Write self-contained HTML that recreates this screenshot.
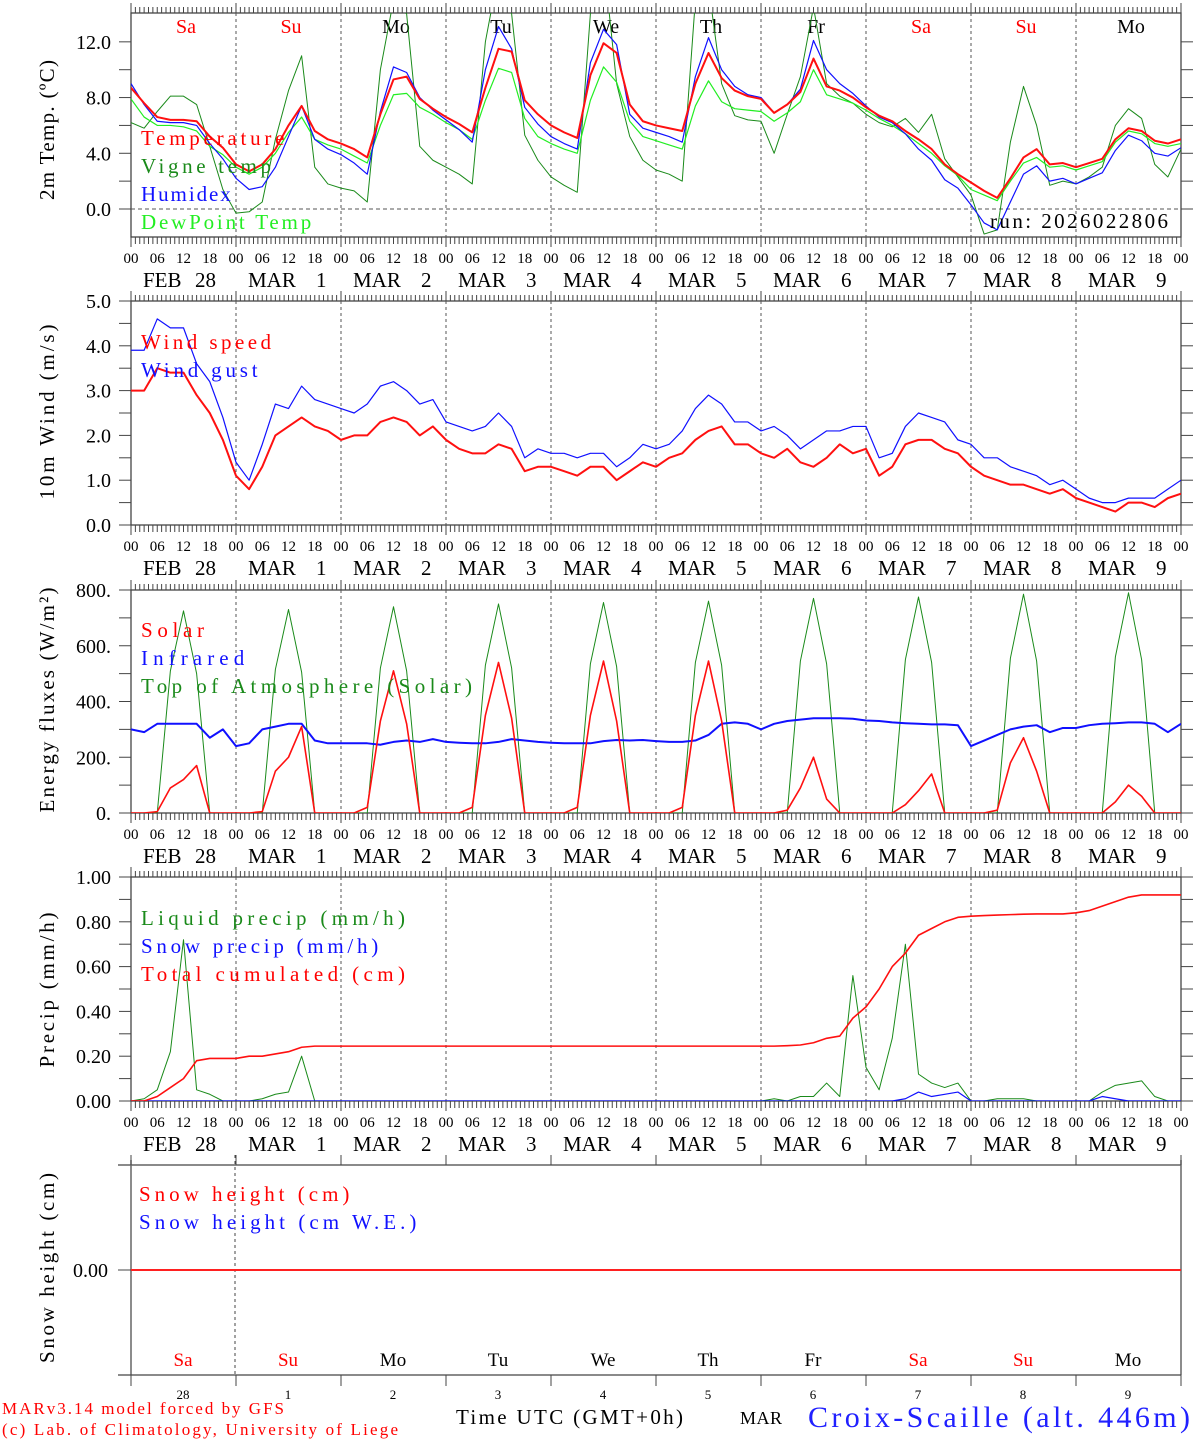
<!DOCTYPE html>
<html><head><meta charset="utf-8">
<style>
html,body{margin:0;padding:0;background:#fff;}
svg{display:block;}
text{font-family:"Liberation Serif",serif;}
</style></head>
<body>
<svg id="chart" width="1194" height="1440" viewBox="0 0 1194 1440" xmlns="http://www.w3.org/2000/svg">
<defs>
<clipPath id="cp1"><rect x="131" y="13" width="1050" height="224"/></clipPath>
<clipPath id="cp2"><rect x="131" y="301" width="1050" height="224"/></clipPath>
<clipPath id="cp3"><rect x="131" y="590" width="1050" height="223"/></clipPath>
<clipPath id="cp4"><rect x="131" y="877" width="1050" height="224"/></clipPath>
</defs>
<g id="root"></g>
</svg>
<script>
// ---- data (3-hourly, 00 Feb 28 .. 00 Mar 10) ----
const dayNames = ["Sa","Su","Mo","Tu","We","Th","Fr","Sa","Su","Mo"];
const dateLabels = ["FEB 28","MAR  1","MAR  2","MAR  3","MAR  4","MAR  5","MAR  6","MAR  7","MAR  8","MAR  9"];
const dayNums = ["28","1","2","3","4","5","6","7","8","9"];
const hourLabels = ["00","06","12","18"];
const tempTicks = [0,4,8,12];
const windTicks = [0,1,2,3,4,5];
const fluxTicks = [0,200,400,600,800];
const precipTicks = [0,0.2,0.4,0.6,0.8,1.0];

const temperature = [8.7,7.6,6.6,6.4,6.4,6.3,5.2,4.4, 3.2,2.7,3.2,4.3,6.0,7.4,5.6,5.0, 4.7,4.3,3.7,6.8,9.3,9.5,7.9,7.2, 6.6,6.1,5.5,8.7,11.5,11.3,7.8,6.8, 6.0,5.5,5.1,9.6,11.9,11.2,7.5,6.3, 6.0,5.8,5.6,9.0,11.2,9.4,8.5,8.1, 7.9,6.9,7.5,8.4,10.8,8.8,8.5,8.0, 7.3,6.7,6.3,5.6,5.0,4.3,3.2,2.5, 1.9,1.3,0.8,2.2,3.7,4.3,3.2,3.3, 3.0,3.3,3.6,5.0,5.8,5.6,4.9,4.7,5.0];
const vigneTemp = [6.2,5.8,7.0,8.1,8.1,7.5,4.5,1.4, -0.3,-0.2,0.5,5.0,8.5,11.0,3.0,1.8, 1.5,1.3,0.5,10.0,15,14,4.5,3.5, 3.0,2.5,1.8,12,17,14,5.3,3.5, 2.3,1.7,1.2,14,18,9,5.2,3.5, 2.8,2.5,2.0,15,16,9,6.7,6.4, 6.3,4.0,6.8,9.5,14.5,9.0,8.1,7.6, 6.8,6.2,5.9,6.5,5.5,6.8,3.6,2.3, 1.0,-1.8,-1.5,4.8,8.8,6.0,1.7,2.0, 1.8,2.3,3.0,6.0,7.2,6.5,3.2,2.3,4.3];
const humidex = [9.0,7.5,6.3,6.2,6.2,6.0,4.7,3.6, 2.2,1.4,1.6,3.0,5.2,7.4,5.0,4.3, 3.9,3.3,2.5,7.0,10.2,9.8,8.0,7.1, 6.4,5.7,4.8,10.0,13.1,11.5,7.3,6.1, 5.2,4.7,4.3,10.5,12.9,11.8,6.8,5.8, 5.5,5.2,4.8,9.5,12.3,10.0,8.8,8.2, 8.0,6.9,7.5,8.6,12.1,10.0,9.0,8.3, 7.4,6.6,6.2,5.4,4.3,3.5,2.1,1.5, 0.3,-1.0,-1.5,0.5,2.5,3.1,2.0,2.2, 1.8,2.2,2.6,4.2,5.3,4.9,4.0,3.8,4.4];
const dewPoint = [7.9,6.6,6.0,6.0,5.9,5.6,4.5,3.9, 3.0,2.5,3.0,4.0,5.5,6.6,5.0,4.6, 4.3,3.8,3.3,6.0,8.2,8.3,7.3,6.8, 6.2,5.7,5.0,7.8,10.1,9.8,6.5,5.2, 4.7,4.3,4.0,7.8,10.2,9.1,6.3,5.2, 4.9,4.6,4.3,7.4,9.2,7.7,7.2,7.1, 7.0,6.3,6.9,7.7,10.0,8.2,7.9,7.6, 7.1,6.5,6.0,5.4,4.7,4.0,3.1,2.4, 1.4,1.0,0.6,2.0,3.3,3.7,3.0,3.1, 2.8,3.1,3.4,4.8,5.6,5.4,4.7,4.5,4.7];

const windSpeed = [3.0,3.0,3.5,3.4,3.4,2.9,2.5,1.9, 1.1,0.8,1.3,2.0,2.2,2.4,2.2,2.1, 1.9,2.0,2.0,2.3,2.4,2.3,2.0,2.2, 1.9,1.7,1.6,1.6,1.8,1.7,1.2,1.3, 1.3,1.2,1.1,1.3,1.3,1.0,1.2,1.4, 1.3,1.5,1.6,1.9,2.1,2.2,1.8,1.8, 1.6,1.5,1.7,1.4,1.3,1.5,1.8,1.6, 1.7,1.1,1.3,1.8,1.9,1.9,1.7,1.6, 1.3,1.1,1.0,0.9,0.9,0.8,0.7,0.8, 0.6,0.5,0.4,0.3,0.5,0.5,0.4,0.6,0.7];
const windGust = [3.9,3.9,4.6,4.4,4.4,3.6,3.2,2.4, 1.4,1.0,1.8,2.7,2.6,3.1,2.8,2.7, 2.6,2.5,2.7,3.1,3.2,3.0,2.7,2.8, 2.3,2.2,2.1,2.2,2.5,2.2,1.5,1.7, 1.6,1.6,1.5,1.6,1.6,1.3,1.5,1.8, 1.7,1.8,2.1,2.6,2.9,2.7,2.3,2.3, 2.1,2.2,2.0,1.7,1.9,2.1,2.1,2.2, 2.2,1.5,1.6,2.2,2.5,2.4,2.3,1.9, 1.8,1.5,1.5,1.3,1.2,1.1,0.9,1.0, 0.8,0.6,0.5,0.5,0.6,0.6,0.6,0.8,1.0];

const solar = [0,0,5,90,120,170,0,0, 0,0,5,150,200,310,0,0, 0,0,20,330,510,320,0,0, 0,0,20,350,540,340,0,0, 0,0,20,350,545,330,0,0, 0,0,20,350,545,330,0,0, 0,0,10,90,200,50,0,0, 0,0,0,30,80,140,0,0, 0,0,10,180,270,150,0,0, 0,0,0,40,100,60,0,0,0];
const infrared = [300,290,320,320,320,320,270,300, 240,250,300,310,320,320,260,250, 250,250,250,245,255,260,255,265, 255,252,250,250,255,265,260,255, 252,250,250,250,258,262,260,262, 258,255,255,260,280,320,325,320, 300,320,330,335,340,340,340,338, 332,330,325,322,320,318,318,315, 240,260,280,300,310,315,290,305, 305,315,320,322,325,325,320,290,320];
const toaSolar = [0,0,0,510,725,500,0,0, 0,0,0,515,730,505,0,0, 0,0,0,520,740,510,0,0, 0,0,0,530,750,520,0,0, 0,0,0,535,755,525,0,0, 0,0,0,540,760,530,0,0, 0,0,0,545,770,535,0,0, 0,0,0,550,775,540,0,0, 0,0,0,555,785,545,0,0, 0,0,0,560,790,550,0,0,0];

const liquidPrecip = [0,0.01,0.05,0.22,0.72,0.05,0.03,0, 0,0,0.01,0.03,0.04,0.2,0,0, 0,0,0,0,0,0,0,0, 0,0,0,0,0,0,0,0, 0,0,0,0,0,0,0,0, 0,0,0,0,0,0,0,0, 0,0.01,0,0.02,0.02,0.08,0.02,0.56, 0.15,0.05,0.28,0.70,0.12,0.08,0.06,0.08, 0,0,0.01,0.01,0.01,0,0,0, 0,0,0.04,0.07,0.08,0.09,0.02,0,0];
const snowPrecip = [0,0,0,0,0,0,0,0, 0,0,0,0,0,0,0,0, 0,0,0,0,0,0,0,0, 0,0,0,0,0,0,0,0, 0,0,0,0,0,0,0,0, 0,0,0,0,0,0,0,0, 0,0,0,0,0,0,0,0, 0,0,0,0.01,0.04,0.02,0.03,0.04, 0,0,0,0,0,0,0,0, 0,0,0.02,0.01,0,0,0,0,0];
const totalCum = [0,0,0.02,0.06,0.10,0.18,0.19,0.19, 0.19,0.20,0.20,0.21,0.22,0.24,0.245,0.245, 0.245,0.245,0.245,0.245,0.245,0.245,0.245,0.245, 0.245,0.245,0.245,0.245,0.245,0.245,0.245,0.245, 0.245,0.245,0.245,0.245,0.245,0.245,0.245,0.245, 0.245,0.245,0.245,0.245,0.245,0.245,0.245,0.245, 0.245,0.245,0.247,0.25,0.26,0.28,0.29,0.37, 0.42,0.50,0.60,0.66,0.74,0.77,0.80,0.82, 0.825,0.828,0.83,0.832,0.834,0.835,0.835,0.835, 0.84,0.85,0.87,0.89,0.91,0.92,0.92,0.92,0.92];
const snowHeight = [0,0];
const snowHeightWE = [0,0];

// ---- helpers ----
const NS = "http://www.w3.org/2000/svg";
const root = document.getElementById("root");
const X0 = 131, X1 = 1181, DAYW = 105;
function xOf(i){ return X0 + i * DAYW / 8; }
function mk(tag, attrs, parent){
  const e = document.createElementNS(NS, tag);
  for (const k in attrs) e.setAttribute(k, attrs[k]);
  (parent || root).appendChild(e);
  return e;
}
function txt(s, attrs, parent){ const t = mk("text", attrs, parent); t.textContent = s; return t; }
function lin(x1,y1,x2,y2,stroke,w,dash){
  const a = {x1:x1,y1:y1,x2:x2,y2:y2,stroke:stroke,"stroke-width":w||1};
  if (dash) a["stroke-dasharray"] = dash;
  return mk("line", a);
}

function panel(top, bot, vmin, vmax){
  return {top:top, bot:bot, y: v => bot - (v - vmin) / (vmax - vmin) * (bot - top)};
}
const P1 = panel(13, 237, -2.0, 14.1);
P1.y = v => 209 - v * 13.93;
const P2 = panel(301, 525, 0, 5);
const P3 = panel(590, 813, 0, 800);
const P4 = panel(877, 1101, 0, 1.0);

function frame(p, name){
  const g = mk("g", {});
  
  
  mk("rect", {x:X0, y:p.top, width:X1-X0, height:p.bot-p.top, fill:"none", stroke:"#444", "stroke-width":1.3}, g);
  for (let h = 0; h <= 240; h++){
    const x = X0 + h * DAYW / 24;
    const major = h % 24 === 0;
    mk("line", {x1:x, x2:x, y1:p.top, y2:p.top - (major?10:6), stroke:"#444", "stroke-width":1}, g);
    mk("line", {x1:x, x2:x, y1:p.bot, y2:p.bot + (major?10:7), stroke:"#444", "stroke-width":1}, g);
  }
  for (let d = 1; d < 10; d++){
    const x = X0 + d*DAYW;
    mk("line", {x1:x, x2:x, y1:p.top, y2:p.bot, stroke:"#555", "stroke-width":1, "stroke-dasharray":"3,3"}, g);
  }
}
function yAxis(p, ticks, minorStep, fmt, title, cy, tlen, name){
  const g = mk("g", {});
  
  
  ticks.forEach(v => {
    const y = p.y(v);
    mk("line", {x1:X0-12, x2:X0, y1:y, y2:y, stroke:"#444"}, g);
    mk("line", {x1:X1, x2:X1+12, y1:y, y2:y, stroke:"#444"}, g);
    txt(fmt(v), {x:X0-20, y:y+7, "font-size":20, "text-anchor":"end", fill:"#000"}, g);
  });
  if (minorStep){
    for (let k = 0; k < ticks.length - 1; k++){
      const v = ticks[k] + minorStep;
      const y = p.y(v);
      mk("line", {x1:X0-12, x2:X0, y1:y, y2:y, stroke:"#444"}, g);
      mk("line", {x1:X1, x2:X1+12, y1:y, y2:y, stroke:"#444"}, g);
    }
  }
  const t = txt(title, {x:0, y:0, "font-size":21, "text-anchor":"middle", textLength:tlen, lengthAdjust:"spacing", transform:`translate(54,${cy}) rotate(-90)`, fill:"#000"}, g);
  
  
}
function timeLabels(p, name){
  const g = mk("g", {});
  
  
  for (let d = 0; d <= 10; d++){
    for (let k = 0; k < 4; k++){
      if (d === 10 && k > 0) break;
      txt(hourLabels[k], {x:X0 + d*DAYW + k*DAYW/4, y:p.bot+26, "font-size":15, "text-anchor":"middle", fill:"#000"}, g);
    }
  }
  for (let d = 0; d < 10; d++){
    const parts = dateLabels[d].split(/\s+/);
    txt(parts[0], {x:X0 + d*DAYW + 12, y:p.bot+50, "font-size":21, fill:"#000"}, g);
    txt(parts[1], {x:X0 + d*DAYW + (parts[0]==="FEB"?64:80), y:p.bot+50, "font-size":21, fill:"#000"}, g);
  }
}
function series(p, arr, color, w, name, clip){
  const pts = arr.map((v,i) => xOf(i).toFixed(2) + "," + p.y(v).toFixed(2)).join(" ");
  const pl = mk("polyline", {points:pts, fill:"none", stroke:color, "stroke-width":w, "stroke-linejoin":"round", "clip-path":"url(#"+clip+")"});
  
  
}
function legend(items, x, y0){
  items.forEach((it, k) => {
    const t = txt(it[0], {x:x, y:y0 + k*28, "font-size":21, fill:it[1], textLength:(it[0].length*13.4-4).toFixed(1), lengthAdjust:"spacing"});
    
    
  });
}

// ---- Panel 1: temperature ----
frame(P1, "temp-panel");
lin(X0, P1.y(0), X1, P1.y(0), "#555", 1, "4,3");
yAxis(P1, tempTicks, 2, v => v.toFixed(1), "2m Temp. (ºC)", 130, 140, "temp-y-axis");
dayNames.forEach((n, d) => {
  const t = txt(n, {x:X0 + d*DAYW + 55, y:33, "font-size":20, "text-anchor":"middle", fill:(n==="Sa"||n==="Su")?"#ff0000":"#000"});
  
  
});
series(P1, vigneTemp, "#1a8a1a", 1, "vigne-temp-line", "cp1");
series(P1, dewPoint, "#22ee22", 1.2, "dewpoint-line", "cp1");
series(P1, humidex, "#1010ff", 1.2, "humidex-line", "cp1");
series(P1, temperature, "#ff1010", 2, "temperature-line", "cp1");
legend([["Temperature","#ff0000","legend-temperature"],["Vigne temp","#1a8a1a","legend-vigne"],["Humidex","#1010ff","legend-humidex"],["DewPoint Temp","#22ee22","legend-dewpoint"]], 141, 145);
{const t = txt("run: 2026022806", {x:990, y:228, "font-size":21, fill:"#000", textLength:178, lengthAdjust:"spacing"});

}
timeLabels(P1, "temp-time-axis");

// ---- Panel 2: wind ----
frame(P2, "wind-panel");
yAxis(P2, windTicks, 0.5, v => v.toFixed(1), "10m Wind (m/s)", 412, 175, "wind-y-axis");
series(P2, windGust, "#1010ff", 1.2, "wind-gust-line", "cp2");
series(P2, windSpeed, "#ff1010", 2, "wind-speed-line", "cp2");
legend([["Wind speed","#ff0000","legend-wind-speed"],["Wind gust","#1010ff","legend-wind-gust"]], 141, 349);
timeLabels(P2, "wind-time-axis");

// ---- Panel 3: energy ----
frame(P3, "energy-panel");
yAxis(P3, fluxTicks, 100, v => v + ".", "Energy fluxes (W/m²)", 700, 225, "energy-y-axis");
series(P3, toaSolar, "#1a8a1a", 1, "toa-solar-line", "cp3");
series(P3, infrared, "#1010ff", 2, "infrared-line", "cp3");
series(P3, solar, "#ff1010", 1.6, "solar-line", "cp3");
legend([["Solar","#ff0000","legend-solar"],["Infrared","#1010ff","legend-infrared"],["Top of Atmosphere (Solar)","#1a8a1a","legend-toa"]], 141, 637);
timeLabels(P3, "energy-time-axis");

// ---- Panel 4: precip ----
frame(P4, "precip-panel");
yAxis(P4, precipTicks, 0.1, v => v.toFixed(2), "Precip (mm/h)", 990, 155, "precip-y-axis");
series(P4, liquidPrecip, "#1a8a1a", 1, "liquid-precip-line", "cp4");
series(P4, snowPrecip, "#1010ff", 1.2, "snow-precip-line", "cp4");
series(P4, totalCum, "#ff1010", 1.6, "total-cumulated-line", "cp4");
legend([["Liquid precip (mm/h)","#1a8a1a","legend-liquid"],["Snow precip (mm/h)","#1010ff","legend-snow-precip"],["Total cumulated (cm)","#ff0000","legend-total"]], 141, 925);
timeLabels(P4, "precip-time-axis");

// ---- Panel 5: snow height ----
{
  const g = mk("g", {});
  
  
  mk("line", {x1:118, x2:X1, y1:1165, y2:1165, stroke:"#444", "stroke-width":1.3}, g);
  mk("line", {x1:X0, x2:X0, y1:1160, y2:1375, stroke:"#666", "stroke-width":1.5}, g);
  mk("line", {x1:X1, x2:X1, y1:1160, y2:1375, stroke:"#666", "stroke-width":1.5}, g);
  mk("line", {x1:118, x2:X1, y1:1375, y2:1375, stroke:"#444", "stroke-width":1.3}, g);
  for (let d = 0; d <= 10; d++){
    const x = X0 + d*DAYW;
    mk("line", {x1:x, x2:x, y1:1155, y2:1165, stroke:"#444"}, g);
    mk("line", {x1:x, x2:x, y1:1375, y2:1386, stroke:"#444"}, g);
  }
  mk("line", {x1:235, x2:235, y1:1155, y2:1375, stroke:"#444", "stroke-dasharray":"3,3"}, g);
  mk("line", {x1:118, x2:X0, y1:1270, y2:1270, stroke:"#444"}, g);
  txt("0.00", {x:108, y:1277, "font-size":20, "text-anchor":"end", fill:"#000"}, g);
  const t = txt("Snow height (cm)", {x:0, y:0, "font-size":21, "text-anchor":"middle", textLength:190, lengthAdjust:"spacing", transform:"translate(54,1268) rotate(-90)", fill:"#000"}, g);
  
  
}
const P5 = panel(1165, 1375, -1, 1);
P5.y = v => 1270 - v * 100;
{
  const pts = snowHeightWE.map((v,i) => (X0 + i*(X1-X0)) + "," + P5.y(v)).join(" ");
  const pl = mk("polyline", {points:pts, fill:"none", stroke:"#1010ff", "stroke-width":2});
  
  
  const pts2 = snowHeight.map((v,i) => (X0 + i*(X1-X0)) + "," + P5.y(v)).join(" ");
  const pl2 = mk("polyline", {points:pts2, fill:"none", stroke:"#ff2020", "stroke-width":2});
  
  
}
legend([["Snow height (cm)","#ff0000","legend-snow-height"],["Snow height (cm W.E.)","#1010ff","legend-snow-we"]], 139, 1201);
dayNames.forEach((n, d) => {
  const t = txt(n, {x:X0 + d*DAYW + 52, y:1366, "font-size":19, "text-anchor":"middle", fill:(n==="Sa"||n==="Su")?"#ff0000":"#000"});
  
  
  const u = txt(dayNums[d], {x:X0 + d*DAYW + 52, y:1399, "font-size":13, "text-anchor":"middle", fill:"#000"});
  
  
});

// ---- footer ----
function foot(s, attrs, name){
  const t = txt(s, attrs);
  
  
}
foot("MARv3.14 model forced by GFS", {x:2, y:1414, "font-size":17, fill:"#ff0000", textLength:282, lengthAdjust:"spacing"}, "model-credit");
foot("(c) Lab. of Climatology, University of Liege", {x:2, y:1435, "font-size":17, fill:"#ff0000", textLength:396, lengthAdjust:"spacing"}, "lab-credit");
foot("Time UTC (GMT+0h)", {x:456, y:1424, "font-size":21, fill:"#000", textLength:227, lengthAdjust:"spacing"}, "x-axis-title");
foot("MAR", {x:740, y:1424, "font-size":18, fill:"#000", textLength:42}, "month-label");
foot("Croix-Scaille (alt. 446m)", {x:808, y:1427, "font-size":30, fill:"#2020ff", textLength:382, lengthAdjust:"spacing"}, "station-title");
</script>
</body></html>
